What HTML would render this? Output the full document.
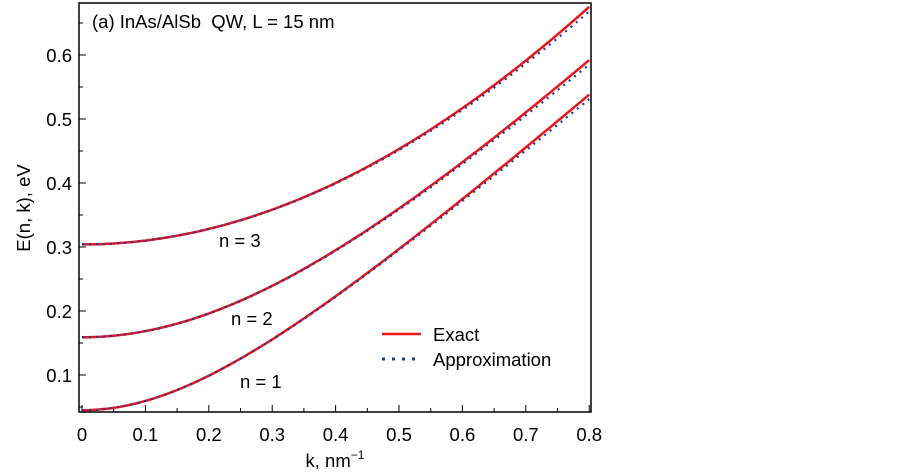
<!DOCTYPE html>
<html><head><meta charset="utf-8"><style>
html,body{margin:0;padding:0;background:#fff;}
svg{display:block;font-family:"Liberation Sans",Arial,sans-serif;}
</style></head><body>
<svg id="s" width="903" height="473" viewBox="0 0 903 473" xmlns="http://www.w3.org/2000/svg">
<rect x="79" y="3" width="512" height="409" fill="none" stroke="#000" stroke-width="1.5"/>
<g id="ticks" stroke="#000" stroke-width="1"></g>
<g id="labels" font-size="18.5" fill="#000"></g>
<g id="curves" fill="none"></g>
<text x="92" y="28" font-size="18.5">(a) InAs/AlSb&#160; QW, L = 15 nm</text>
<text x="219" y="247" font-size="18.5">n = 3</text>
<text x="231" y="325" font-size="18.5">n = 2</text>
<text x="240" y="388" font-size="18.5">n = 1</text>
<line x1="382" y1="334" x2="421" y2="334" stroke="#e8141c" stroke-width="2.5"/>
<line x1="382" y1="359" x2="421" y2="359" stroke="#1a3a9a" stroke-width="3" stroke-dasharray="3,7"/>
<text x="433" y="341" font-size="18.5">Exact</text>
<text x="433" y="366" font-size="18.5">Approximation</text>
<text x="335" y="467" font-size="18.5" text-anchor="middle">k, nm<tspan font-size="12" dy="-8">−1</tspan></text>
<text transform="translate(30,208) rotate(-90)" font-size="18.5" text-anchor="middle">E(n, k), eV</text>
</svg>
<script>
var X=function(k){return 82+k*634;}, Y=function(E){return 55+(0.6-E)*640;};
var t=document.getElementById('ticks'),l=document.getElementById('labels'),c=document.getElementById('curves');
var ns='http://www.w3.org/2000/svg';
function el(p,n,a,txt){var e=document.createElementNS(ns,n);for(var k in a)e.setAttribute(k,a[k]);if(txt!==undefined)e.textContent=txt;p.appendChild(e);return e;}
for(var i=0;i<=16;i++){var k=i*0.05,x=X(k);el(t,'line',{x1:x,y1:412,x2:x,y2:i%2?408:405});
 if(i%2==0)el(l,'text',{x:x,y:441,'text-anchor':'middle'},i==0?'0':(k.toFixed(1)));}
for(var i=1;i<=13;i++){var E=i*0.05,y=Y(E);if(y<5)continue;el(t,'line',{x1:79,y1:y,x2:i%2?83:86,y2:y});
 if(i%2==0)el(l,'text',{x:72,y:y+7,'text-anchor':'end'},E.toFixed(1));}
var P=[[0.045,0.2205,0.789],[0.159,0.353,0.986],[0.304,3.57,4.71]];
P.forEach(function(p){var d='',d2='';for(var j=0;j<=160;j++){var k=j*0.005;var E=-p[1]+Math.sqrt(Math.pow(p[0]+p[1],2)+p[2]*k*k);
 var E2=E-0.007*Math.pow(k/0.8,3);d+=(j?'L':'M')+X(k).toFixed(1)+','+Y(E).toFixed(1);d2+=(j?'L':'M')+X(k).toFixed(1)+','+Y(E2).toFixed(1);}
 el(c,'path',{d:d,stroke:'#e8141c','stroke-width':2.5});
 el(c,'path',{d:d2,stroke:'#1a3a9a','stroke-width':2.2,'stroke-dasharray':'2,5'});});
</script>
</body></html>
